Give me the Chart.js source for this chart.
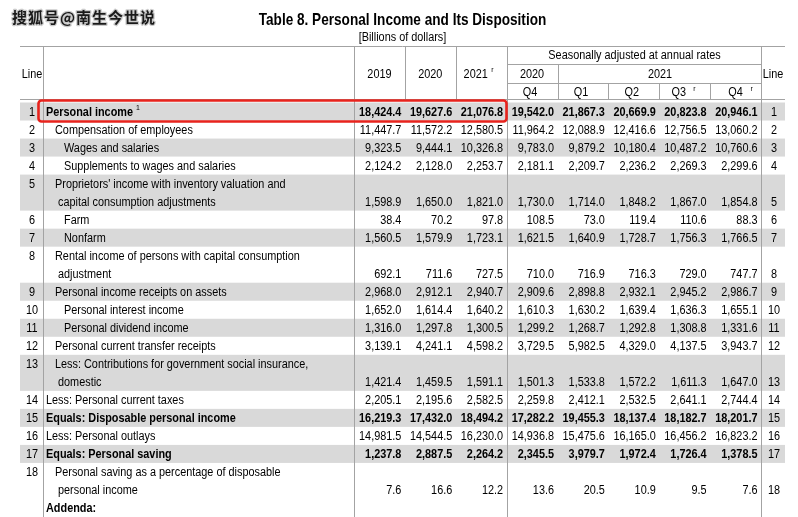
<!DOCTYPE html>
<html>
<head>
<meta charset="utf-8">
<title>Table 8. Personal Income and Its Disposition</title>
<script src="https://cdn.jsdelivr.net/npm/chart.js@4.4.1/dist/chart.umd.min.js"></script>
<style>
  html, body { margin: 0; padding: 0; background: #fff; }
  canvas { display: block; }
</style>
</head>
<body>
<canvas id="tbl" width="798" height="517"></canvas>
<script>
// ---- data ----
const colKeys = ['2019', '2020', '2021', '2020 Q4', '2021 Q1', '2021 Q2', '2021 Q3', '2021 Q4'];
const lineNums = [1, 2, 3, 4, 5, 6, 7, 8, 9, 10, 11, 12, 13, 14, 15, 16, 17, 18];
const rowLabels = [
  ['Personal income'],
  ['Compensation of employees'],
  ['Wages and salaries'],
  ['Supplements to wages and salaries'],
  ["Proprietors' income with inventory valuation and", 'capital consumption adjustments'],
  ['Farm'],
  ['Nonfarm'],
  ['Rental income of persons with capital consumption', 'adjustment'],
  ['Personal income receipts on assets'],
  ['Personal interest income'],
  ['Personal dividend income'],
  ['Personal current transfer receipts'],
  ['Less: Contributions for government social insurance,', 'domestic'],
  ['Less: Personal current taxes'],
  ['Equals: Disposable personal income'],
  ['Less: Personal outlays'],
  ['Equals: Personal saving'],
  ['Personal saving as a percentage of disposable', 'personal income']
];
const rowIndent = [0, 1, 2, 2, 1, 2, 2, 1, 1, 2, 2, 1, 1, 0, 0, 0, 0, 1];
const boldRows = [1, 15, 17];
const shadedRows = [1, 3, 5, 7, 9, 11, 13, 15, 17];

const y2019   = [18424.4, 11447.7, 9323.5, 2124.2, 1598.9, 38.4, 1560.5, 692.1, 2968.0, 1652.0, 1316.0, 3139.1, 1421.4, 2205.1, 16219.3, 14981.5, 1237.8, 7.6];
const y2020   = [19627.6, 11572.2, 9444.1, 2128.0, 1650.0, 70.2, 1579.9, 711.6, 2912.1, 1614.4, 1297.8, 4241.1, 1459.5, 2195.6, 17432.0, 14544.5, 2887.5, 16.6];
const y2021   = [21076.8, 12580.5, 10326.8, 2253.7, 1821.0, 97.8, 1723.1, 727.5, 2940.7, 1640.2, 1300.5, 4598.2, 1591.1, 2582.5, 18494.2, 16230.0, 2264.2, 12.2];
const q4_2020 = [19542.0, 11964.2, 9783.0, 2181.1, 1730.0, 108.5, 1621.5, 710.0, 2909.6, 1610.3, 1299.2, 3729.5, 1501.3, 2259.8, 17282.2, 14936.8, 2345.5, 13.6];
const q1_2021 = [21867.3, 12088.9, 9879.2, 2209.7, 1714.0, 73.0, 1640.9, 716.9, 2898.8, 1630.2, 1268.7, 5982.5, 1533.8, 2412.1, 19455.3, 15475.6, 3979.7, 20.5];
const q2_2021 = [20669.9, 12416.6, 10180.4, 2236.2, 1848.2, 119.4, 1728.7, 716.3, 2932.1, 1639.4, 1292.8, 4329.0, 1572.2, 2532.5, 18137.4, 16165.0, 1972.4, 10.9];
const q3_2021 = [20823.8, 12756.5, 10487.2, 2269.3, 1867.0, 110.6, 1756.3, 729.0, 2945.2, 1636.3, 1308.8, 4137.5, 1611.3, 2641.1, 18182.7, 16456.2, 1726.4, 9.5];
const q4_2021 = [20946.1, 13060.2, 10760.6, 2299.6, 1854.8, 88.3, 1766.5, 747.7, 2986.7, 1655.1, 1331.6, 3943.7, 1647.0, 2744.4, 18201.7, 16823.2, 1378.5, 7.6];
const columns = [y2019, y2020, y2021, q4_2020, q1_2021, q2_2021, q3_2021, q4_2021];

// row -> line index of its last text line (two-line labels take two lines)
const rowLine = [];
let ln = 0;
rowLabels.forEach(l => { ln += l.length; rowLine.push(ln - 1); });
const addendaLine = ln;

// ---- drawing helpers ----
const FONT = '"Liberation Sans", Arial, sans-serif';
const SX = 0.87;
const INDENT_X = [46, 55, 64];
const CONT_X = 58;

function txt(ctx, s, x, cy, o = {}) {
  const size = o.size || 12.5, sx = o.sx || SX;
  ctx.save();
  ctx.font = (o.bold ? 'bold ' : '') + size + 'px ' + (o.family || FONT);
  ctx.fillStyle = o.color || '#000';
  ctx.textAlign = o.align || 'left';
  ctx.textBaseline = 'alphabetic';
  ctx.translate(x, cy + 0.358 * size);
  ctx.scale(sx, 1);
  ctx.fillText(s, 0, 0);
  const wd = ctx.measureText(s).width * sx;
  ctx.restore();
  return wd;
}
const fmt = v => v.toLocaleString('en-US', { minimumFractionDigits: 1, maximumFractionDigits: 1 });

const tablePlugin = {
  id: 'tablePlugin',
  beforeDatasetsDraw(chart) {
    const { ctx, chartArea: a, scales: { x, y } } = chart;
    const w = (a.right - a.left) / colKeys.length;
    const edge = k => Math.round(a.left + k * w) + 0.5;
    const L = 20, R = 785;

    // watermark + title
    ctx.save();
    ctx.font = 'bold 15px "Noto Sans CJK SC", sans-serif';
    ctx.letterSpacing = '1px';
    ctx.textBaseline = 'middle';
    ctx.lineJoin = 'round';
    ctx.translate(12, 17);
    ctx.lineWidth = 2.5; ctx.strokeStyle = 'rgba(160,160,160,0.55)';
    ctx.strokeText('搜狐号@南生今世说', 0, 0);
    ctx.fillStyle = '#1a1a1a';
    ctx.fillText('搜狐号@南生今世说', 0, 0);
    ctx.restore();
    txt(ctx, 'Table 8. Personal Income and Its Disposition', 402.5, 19.2, { bold: true, size: 16.3, sx: 0.835, align: 'center' });
    txt(ctx, '[Billions of dollars]', 402.5, 37, { align: 'center' });

    // row shading
    ctx.save();
    ctx.fillStyle = '#d9d9d9';
    rowLine.forEach((last, r) => {
      if (!shadedRows.includes(lineNums[r])) return;
      const first = last - rowLabels[r].length + 1;
      const t = y.getPixelForValue(first - 0.5), b = y.getPixelForValue(last + 0.5);
      ctx.fillRect(L, t, R - L, b - t);
    });

    // rules
    ctx.strokeStyle = '#a3a3a3'; ctx.lineWidth = 1;
    const hl = (x1, x2, yy) => { ctx.beginPath(); ctx.moveTo(x1, yy); ctx.lineTo(x2, yy); ctx.stroke(); };
    const vl = (xx, y1, y2) => { ctx.beginPath(); ctx.moveTo(xx, y1); ctx.lineTo(xx, y2); ctx.stroke(); };
    const top = 46.5, hb = 99.5, h1 = 64.5, h2 = 83.5;
    hl(L, R, top); hl(L, R, hb);
    hl(edge(3), edge(8), h1); hl(edge(3), edge(8), h2);
    [43.5, edge(0), edge(3), edge(8)].forEach(xx => vl(xx, top, a.bottom));
    vl(edge(1), top, hb); vl(edge(2), top, hb);
    vl(edge(4), h1, hb);
    [5, 6, 7].forEach(k => vl(edge(k), h2, hb));
    ctx.restore();

    // header text
    const cx = k => a.left + (k + 0.5) * w;
    txt(ctx, 'Line', 32, 73.5, { align: 'center' });
    txt(ctx, 'Line', 773, 73.5, { align: 'center' });
    txt(ctx, '2019', cx(0), 73.5, { align: 'center' });
    txt(ctx, '2020', cx(1), 73.5, { align: 'center' });
    txt(ctx, '2021', cx(2) - 5.5, 73.5, { align: 'center' });
    txt(ctx, 'r', cx(2) + 10, 69.5, { size: 8 });
    txt(ctx, 'Seasonally adjusted at annual rates', (edge(3) + edge(8)) / 2, 55, { align: 'center' });
    txt(ctx, '2020', cx(3), 73.5, { align: 'center' });
    txt(ctx, '2021', (edge(4) + edge(8)) / 2, 73.5, { align: 'center' });
    const qs = ['Q4', 'Q1', 'Q2', 'Q3', 'Q4'];
    const qdx = [-2, -2, -2, -6, 0];
    qs.forEach((q, i) => txt(ctx, q, cx(3 + i) + qdx[i], 92, { align: 'center' }));
    txt(ctx, 'r', cx(6) + 8.5, 88, { size: 8 });
    txt(ctx, 'r', cx(7) + 15, 88, { size: 8 });
  },
  afterDatasetsDraw(chart) {
    const { ctx, chartArea: a, scales: { x, y } } = chart;
    const w = (a.right - a.left) / colKeys.length;

    // values at the points placed by the scales
    chart.data.datasets.forEach((ds, i) => {
      chart.getDatasetMeta(i).data.forEach((pt, j) => {
        txt(ctx, fmt(ds.data[j].v), pt.x + w / 2 - 3.5, pt.y, {
          align: 'right', bold: boldRows.includes(lineNums[j])
        });
      });
    });

    // stub labels and line numbers
    rowLabels.forEach((lines, r) => {
      const first = rowLine[r] - lines.length + 1;
      const bold = boldRows.includes(lineNums[r]);
      lines.forEach((s, k) => {
        const xx = k === 0 ? INDENT_X[rowIndent[r]] : CONT_X;
        const wd = txt(ctx, s, xx, y.getPixelForValue(first + k), { bold });
        if (lineNums[r] === 1) txt(ctx, '1', xx + wd + 3, y.getPixelForValue(first + k) - 4, { size: 8 });
      });
      txt(ctx, String(lineNums[r]), 32, y.getPixelForValue(first), { align: 'center' });
      txt(ctx, String(lineNums[r]), 774, y.getPixelForValue(rowLine[r]), { align: 'center' });
    });
    txt(ctx, 'Addenda:', INDENT_X[0], y.getPixelForValue(addendaLine), { bold: true });

    // red highlight around line 1 annual figures
    const t = y.getPixelForValue(rowLine[0] - 0.5) - 2;
    const b = y.getPixelForValue(rowLine[0] + 0.5) + 1;
    const r0 = Math.round(a.left + 3 * w) - 0.5;
    ctx.save();
    ctx.strokeStyle = '#e8231d';
    ctx.lineWidth = 2.6;
    ctx.beginPath();
    ctx.roundRect(38.5, t, r0 - 38.5, b - t, 3);
    ctx.stroke();
    ctx.restore();
  }
};

const datasets = columns.map((vals, c) => ({
  label: colKeys[c],
  data: vals.map((v, r) => ({ x: colKeys[c], y: rowLine[r], v })),
  pointRadius: 0,
  pointHoverRadius: 0,
  showLine: false
}));

new Chart(document.getElementById('tbl').getContext('2d'), {
  type: 'scatter',
  data: { labels: colKeys, datasets },
  options: {
    responsive: false,
    animation: false,
    events: [],
    layout: { padding: { left: 354, right: 37, top: 102.5, bottom: 0 } },
    plugins: { legend: { display: false }, tooltip: { enabled: false } },
    scales: {
      x: { type: 'category', labels: colKeys, offset: true, display: false },
      y: { type: 'linear', min: -0.5, max: addendaLine + 0.5, reverse: true, display: false }
    }
  },
  plugins: [tablePlugin]
});
</script>
</body>
</html>
